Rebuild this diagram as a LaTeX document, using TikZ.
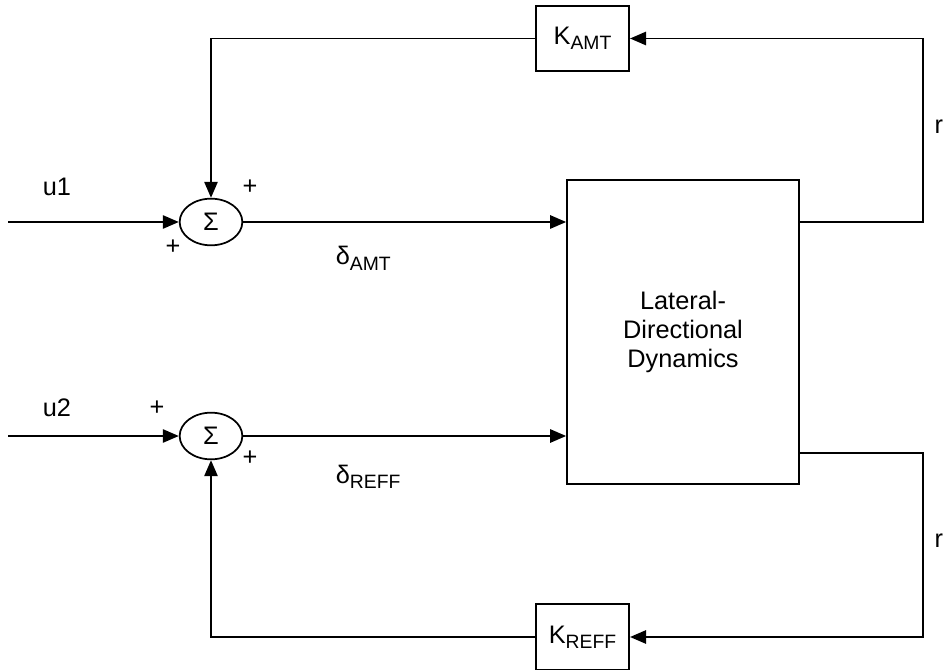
\documentclass[tikz,border=0pt]{standalone}
\usepackage{fontspec}
\setmainfont{Liberation Sans}
\usetikzlibrary{shapes.geometric,arrows.meta}

% lowered, smaller index text (K_AMT, delta_REFF ...)
\newcommand{\lsub}[1]{\raisebox{-0.2em}{\fontsize{14.5}{16}\selectfont #1}}

\begin{document}
\begin{tikzpicture}[
    x=0.75pt, y=-0.75pt,
    line width=1.3pt,
    every node/.style={font=\fontsize{19}{21.75}\selectfont},
    sumnode/.style={ellipse, draw, minimum width=47pt, minimum height=35pt, inner sep=0pt},
    gainbox/.style={rectangle, draw, minimum width=70pt, minimum height=49pt, inner sep=0pt},
    plantbox/.style={rectangle, draw, minimum width=174pt, minimum height=228pt, align=center},
    sig/.style={-{Triangle[length=12pt,width=10pt]}}
]
\useasboundingbox (0,0) rectangle (946,670);

% blocks
\node[sumnode] (sum1) at (211,222) {Σ};
\node[sumnode] (sum2) at (211,436) {Σ};
\node[plantbox] (plant) at (683,332) {Lateral-\\Directional\\Dynamics};
\node[gainbox] (kamt) at (582.5,38.5) {K\lsub{AMT}};
\node[gainbox] (kreff) at (582.5,637) {K\lsub{REFF}};

% loose ends and corners
\coordinate (in1) at (8,222);
\coordinate (in2) at (8,436);
\coordinate (fb1) at (923,222);
\coordinate (fb2) at (923,453);

% forward path
\draw[sig] (in1) -- (sum1);
\draw[sig] (in2) -- (sum2);
\draw[sig] (sum1) -- (sum1 -| plant.west);
\draw[sig] (sum2) -- (sum2 -| plant.west);

% feedback loops
\draw[sig] (plant.east |- fb1) -- (fb1) |- (kamt.east);
\draw[sig] (kamt.west) -| (sum1.north);
\draw[sig] (plant.east |- fb2) -- (fb2) |- (kreff.east);
\draw[sig] (kreff.west) -| (sum2.south);

% labels
\node (u1) at (57,187) {u1};
\node (u2) at (57,408) {u2};
\node (s1a) at (250,187) {+};
\node (s1b) at (173,247) {+};
\node (s2a) at (157,408) {+};
\node (s2b) at (250,458) {+};
\node[anchor=base west, inner sep=0pt] (damt) at (335,265) {δ\lsub{AMT}};
\node[anchor=base west, inner sep=0pt] (dreff) at (335,483) {δ\lsub{REFF}};
\node[anchor=east, inner sep=0pt] (r1) at (944,127) {r};
\node[anchor=east, inner sep=0pt] (r2) at (944,541) {r};
\end{tikzpicture}
\end{document}
